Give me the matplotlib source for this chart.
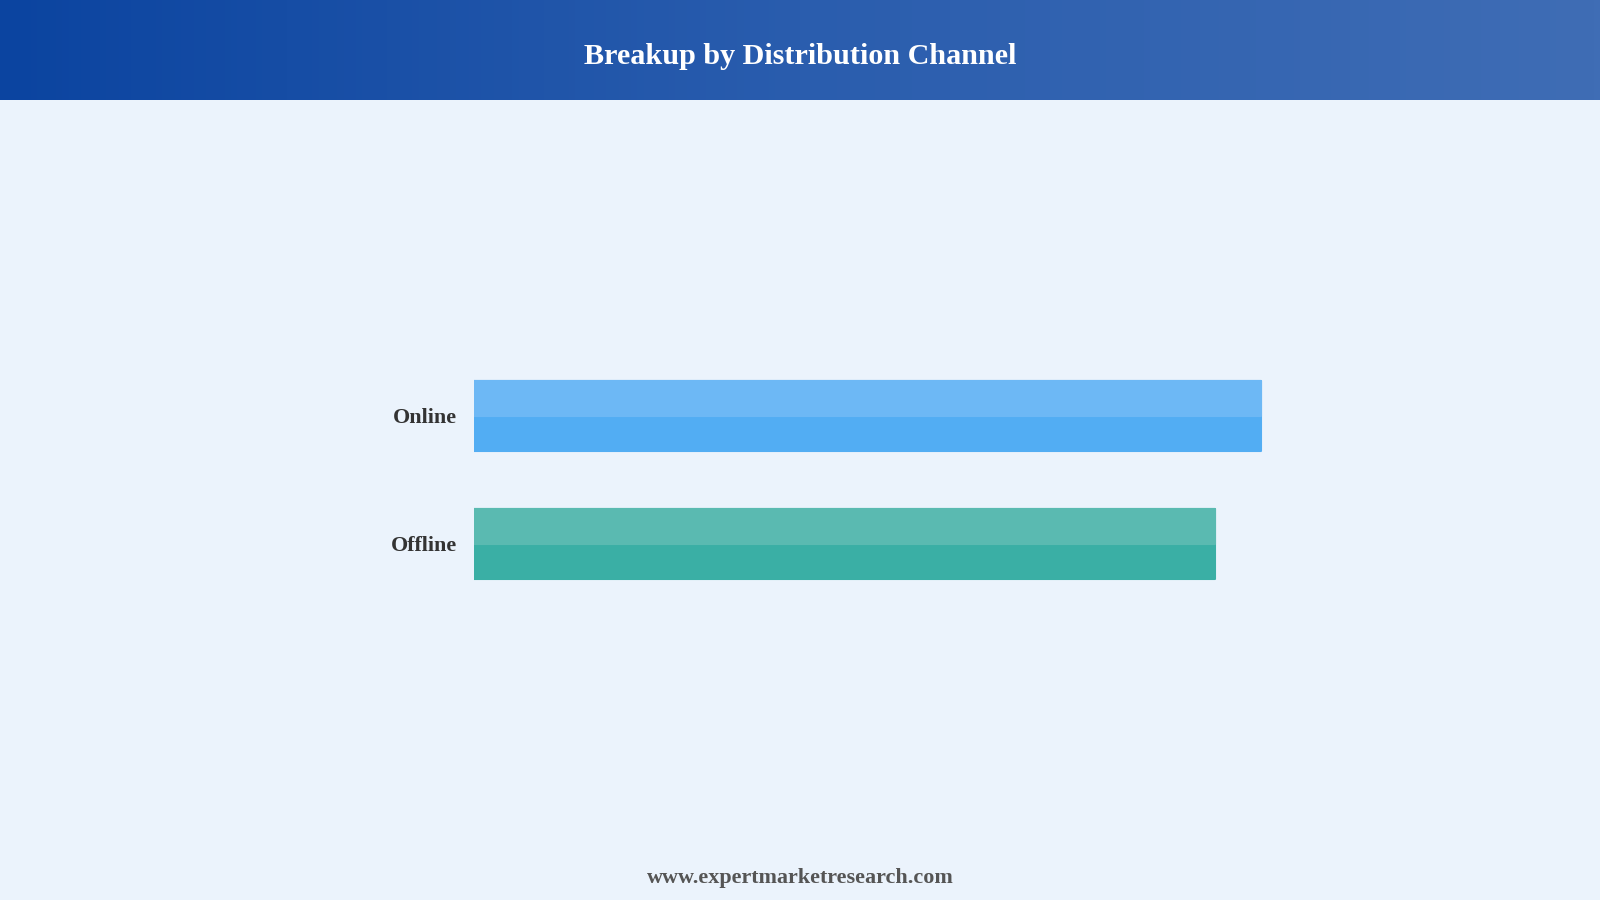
import numpy as np
import matplotlib.pyplot as plt
from matplotlib.colors import LinearSegmentedColormap

# data
channels = ["Offline", "Online"]
shares = [48.5, 51.5]
base_colors = ["#3AAFA5", "#52ADF3"]
top_colors = ["#5ABAB1", "#6DB8F5"]

title = "Breakup by Distribution Channel"
footer = "www.expertmarketresearch.com"

bg = "#EBF3FC"
fig = plt.figure(figsize=(16, 9), dpi=100, facecolor=bg)

# header band with gradient
hdr = fig.add_axes([0, 1 - 100 / 900, 1, 100 / 900])
grad = np.linspace(0, 1, 512).reshape(1, -1)
cmap = LinearSegmentedColormap.from_list("hdr", ["#0B44A0", "#2A5DAE", "#3F6DB5"])
hdr.imshow(grad, aspect="auto", cmap=cmap, extent=[0, 1, 0, 1])
hdr.set_axis_off()
fig.text(0.5, 0.9375, title, ha="center", va="center", color="white",
         fontsize=21.7, fontweight="bold", family="Liberation Serif")

# bars
ax = fig.add_axes([0.296, 0.1823, 0.8695 - 0.296, 0.7512 - 0.1823])
ax.set_facecolor(bg)
ypos = np.arange(len(channels))
h = 0.55
ax.barh(ypos, shares, height=h, color=base_colors, edgecolor=base_colors,
        linewidth=1.5, joinstyle="round")
ax.barh(ypos + h / 4, shares, height=h / 2, color=top_colors, edgecolor=top_colors,
        linewidth=1.5, joinstyle="round")
ax.set_xlim(0, 60)
ax.set_ylim(-1.5, 2.5)
ax.set_yticks(ypos)
ax.set_yticklabels(channels, fontsize=15.8, fontweight="bold",
                   family="Liberation Serif", color="#333333")
ax.tick_params(axis="y", length=0, pad=12)
ax.set_xticks([])
for s in ax.spines.values():
    s.set_visible(False)

fig.text(0.5, 0.0245, footer, ha="center", va="center", color="#555555",
         fontsize=15.9, fontweight="bold", family="Liberation Serif")

fig.savefig("out.png", dpi=100, facecolor=bg)
